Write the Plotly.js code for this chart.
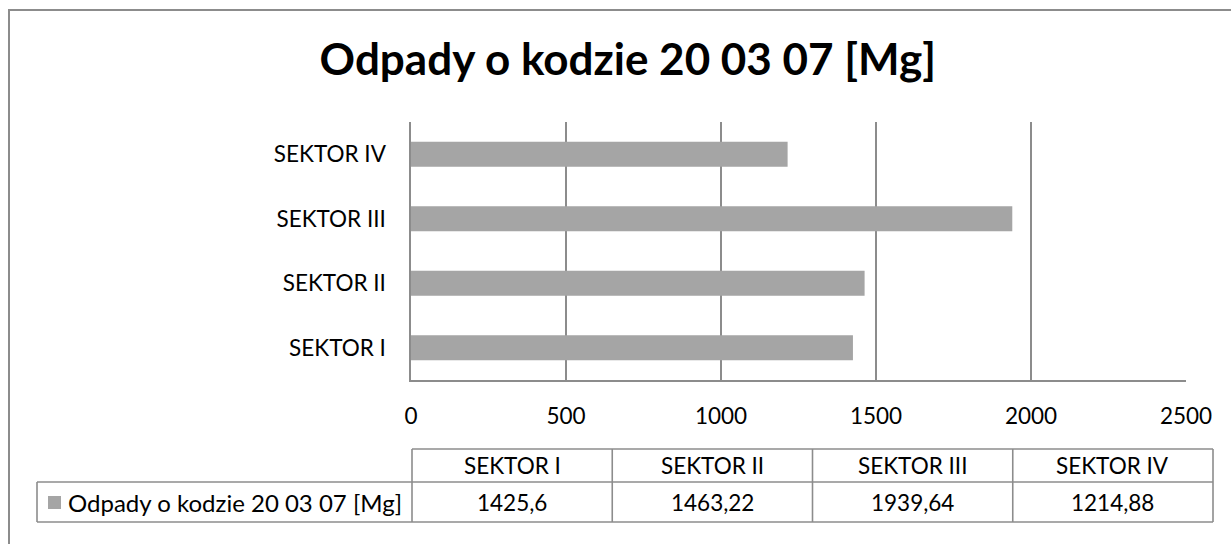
<!DOCTYPE html>
<html>
<head>
<meta charset="utf-8">
<script src="https://cdn.plot.ly/plotly-3.0.1.min.js"></script>
<style>
html,body{margin:0;padding:0;background:#fff;}
#chart{width:1231px;height:544px;}
</style>
</head>
<body>
<div id="chart"></div>
<script>
// ---- data ----
const categories = ['SEKTOR I', 'SEKTOR II', 'SEKTOR III', 'SEKTOR IV'];
const values = [1425.6, 1463.22, 1939.64, 1214.88];
const xTickVals = [0, 500, 1000, 1500, 2000, 2500];
const xTickText = ['0', '500', '1000', '1500', '2000', '2500'];
const seriesName = 'Odpady o kodzie 20 03 07 [Mg]';
const chartTitle = 'Odpady o kodzie 20 03 07 [Mg]';

// ---- layout geometry (pixels) ----
const W = 1231, H = 544;
const L = 411, R = 1186, T = 122, B = 380;
const px = x => (x - L) / (R - L);
const py = y => (B - y) / (B - T);

const FONT = 'Lato, "Open Sans", sans-serif';
const FS = 22.5;
const LINE = '#8c8c8c';
const BAR = '#a5a5a5';

const fmt = v => String(v).replace('.', ',');

// table geometry
const tblLeft = 412, tblRight = 1213, legLeft = 37;
const rowTop = 449, rowMid = 482, rowBot = 522;
const colW = (tblRight - tblLeft) / categories.length;

const shapes = [];
const annotations = [];
function hline(x0, x1, y) {
  shapes.push({type: 'line', xref: 'paper', yref: 'paper', x0: px(x0), x1: px(x1), y0: py(y), y1: py(y), line: {color: LINE, width: 1.6}});
}
function vline(x, y0, y1) {
  shapes.push({type: 'line', xref: 'paper', yref: 'paper', x0: px(x), x1: px(x), y0: py(y0), y1: py(y1), line: {color: LINE, width: 1.6}});
}
hline(tblLeft, tblRight, rowTop);
hline(legLeft, tblRight, rowMid);
hline(legLeft, tblRight, rowBot);
vline(legLeft, rowMid, rowBot);
for (let i = 0; i <= categories.length; i++) vline(tblLeft + i * colW, rowTop, rowBot);

categories.forEach((c, i) => {
  const cx = tblLeft + (i + 0.5) * colW;
  annotations.push({xref: 'paper', yref: 'paper', x: px(cx), y: py((rowTop + rowMid) / 2), text: c, showarrow: false, xanchor: 'center', yanchor: 'middle', font: {family: FONT, size: FS, color: '#000'}});
  annotations.push({xref: 'paper', yref: 'paper', x: px(cx), y: py((rowMid + rowBot) / 2), text: fmt(values[i]), showarrow: false, xanchor: 'center', yanchor: 'middle', font: {family: FONT, size: FS, color: '#000'}});
});
// legend key
shapes.push({type: 'rect', xref: 'paper', yref: 'paper', x0: px(48), x1: px(61), y0: py(496), y1: py(509), fillcolor: BAR, line: {width: 0}});
annotations.push({xref: 'paper', yref: 'paper', x: px(66), y: py((rowMid + rowBot) / 2), text: seriesName, showarrow: false, xanchor: 'left', yanchor: 'middle', font: {family: FONT, size: 24, color: '#000'}});

// outer chart border
shapes.push({type: 'rect', xref: 'paper', yref: 'paper', x0: px(9), x1: px(W + 20), y0: py(10), y1: py(H + 20), line: {color: LINE, width: 2}, fillcolor: 'rgba(0,0,0,0)'});

const trace = {
  type: 'bar',
  orientation: 'h',
  y: categories,
  x: values,
  name: seriesName,
  marker: {color: BAR},
  hoverinfo: 'x+y'
};

const layout = {
  width: W, height: H,
  margin: {l: L, r: W - R, t: T, b: H - B, pad: 0},
  paper_bgcolor: '#fff',
  plot_bgcolor: '#fff',
  showlegend: false,
  bargap: 0.61,
  title: {
    text: '<b>' + chartTitle + '</b>',
    font: {family: FONT, size: 44, color: '#000'},
    x: 0.51, xanchor: 'center',
    y: 1 - 60 / H, yanchor: 'middle', yref: 'container'
  },
  xaxis: {
    range: [0, 2500],
    tickvals: xTickVals,
    ticktext: xTickText,
    showgrid: true,
    gridcolor: LINE,
    gridwidth: 1.5,
    zeroline: false,
    showline: true,
    linecolor: LINE,
    linewidth: 1.6,
    ticks: '',
    ticklabelstandoff: 15,
    tickfont: {family: FONT, size: FS, color: '#000'},
    fixedrange: true
  },
  yaxis: {
    type: 'category',
    categoryorder: 'array',
    categoryarray: categories,
    showgrid: false,
    zeroline: false,
    showline: true,
    linecolor: LINE,
    linewidth: 1.6,
    ticks: '',
    ticklabelstandoff: 19,
    tickfont: {family: FONT, size: FS, color: '#000'},
    fixedrange: true
  },
  shapes: shapes,
  annotations: annotations
};

Plotly.newPlot('chart', [trace], layout, {displayModeBar: false, staticPlot: true});
</script>
</body>
</html>
